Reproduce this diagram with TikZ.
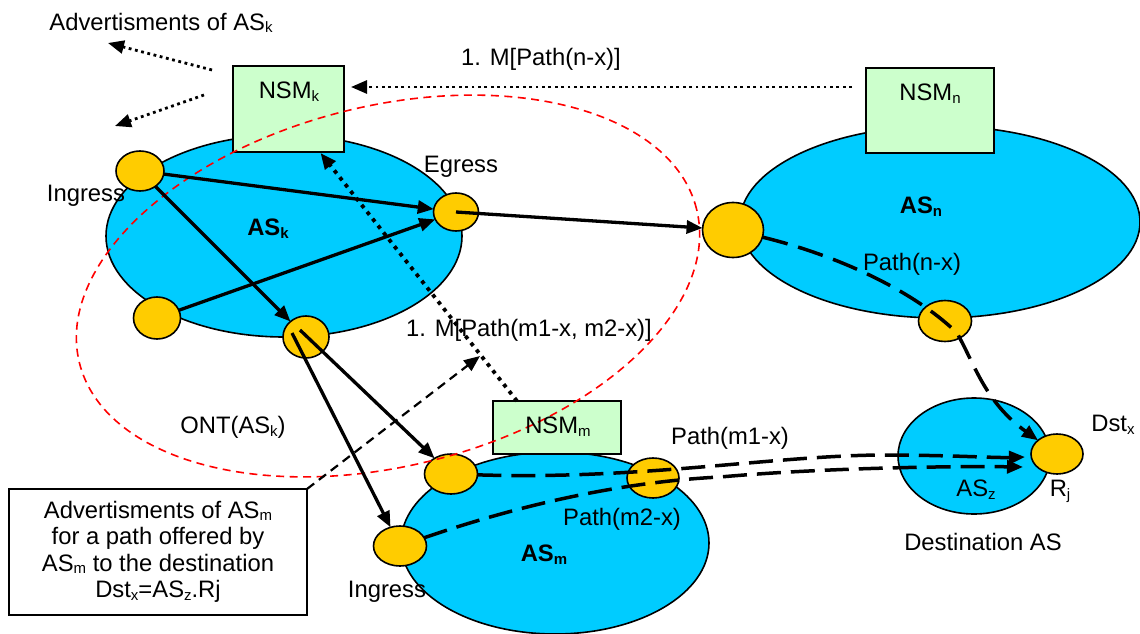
\documentclass[tikz,border=0pt]{standalone}
\usepackage{fontspec}
\setmainfont{Liberation Sans}
\usetikzlibrary{shapes.geometric,arrows.meta}
\definecolor{ascyan}{RGB}{0,204,255}
\definecolor{rtyellow}{RGB}{255,204,0}
\definecolor{nsmgreen}{RGB}{204,255,204}
\newcommand{\sbs}[1]{\raisebox{-2.5pt}{\fontsize{15}{15}\selectfont #1}}
\begin{document}
\begin{tikzpicture}[x=1pt,y=-1pt,
  every node/.style={font=\fontsize{23.8}{28}\selectfont, inner sep=0pt, outer sep=0pt},
  lbl/.style={anchor=base},
  asnet/.style={ellipse, draw=black, line width=1.6pt, fill=ascyan},
  router/.style={ellipse, draw=black, line width=1.6pt, fill=rtyellow},
  nsmbox/.style={rectangle, draw=black, line width=2.2pt, fill=nsmgreen},
  tip/.style={-{Triangle[length=16pt,width=13pt]}},
  solidarrow/.style={tip, line width=3.3pt},
  pathdash/.style={tip, line width=3.5pt, dash pattern=on 24pt off 10pt},
  finedots/.style={tip, line width=2.8pt, dash pattern=on 2.8pt off 3.6pt},
  thickdots/.style={tip, line width=3.8pt, dash pattern=on 3.8pt off 5pt},
  thindash/.style={tip, line width=2.2pt, dash pattern=on 9pt off 6pt},
]
\fill[white] (0,0) rectangle (1140,634);
\useasboundingbox (0,0) rectangle (1140,634);

% AS clouds
\node[asnet, minimum width=356pt, minimum height=202pt] (ask) at (284,236) {};
\node[asnet, minimum width=400pt, minimum height=192pt] (asn) at (940,222) {};
\node[asnet, minimum width=308pt, minimum height=182pt] (asm) at (555,543) {};
\node[asnet, minimum width=152pt, minimum height=116pt] (asz) at (974,456) {};

% NSM boxes
\node[nsmbox, minimum width=111pt, minimum height=86pt] (nsmk) at (288.5,109) {};
\node[nsmbox, minimum width=128pt, minimum height=85pt] (nsmn) at (930,110.5) {};
\node[nsmbox, minimum width=128pt, minimum height=53pt] (nsmm) at (557,427.5) {};

% routers
\node[router, minimum width=48pt, minimum height=40pt] (rkin) at (140,171) {};
\node[router, minimum width=47pt, minimum height=42pt] (rkbl) at (157,318) {};
\node[router, minimum width=45pt, minimum height=38pt] (rkeg) at (456,212) {};
\node[router, minimum width=46pt, minimum height=42pt] (rkbot) at (306,337) {};
\node[router, minimum width=61pt, minimum height=55pt] (rnin) at (733,230) {};
\node[router, minimum width=53pt, minimum height=41pt] (rnout) at (945,321) {};
\node[router, minimum width=52pt, minimum height=40pt] (rdst) at (1057,454) {};
\node[router, minimum width=53pt, minimum height=40pt] (rmin1) at (451,474) {};
\node[router, minimum width=52pt, minimum height=40pt] (rmout) at (653,478) {};
\node[router, minimum width=53pt, minimum height=40pt] (rmin2) at (400,546) {};

% ONT(AS_k) red dashed
\node[ellipse, draw=red, line width=1.6pt, dash pattern=on 8pt off 5.5pt,
      minimum width=636pt, minimum height=360pt, rotate=14] (ont) at (388,286) {};

% advert box
\node[draw=black, line width=2.2pt, fill=white, minimum width=298pt, minimum height=126pt,
      align=center, font=\fontsize{23.8}{26.5}\selectfont] (advbox) at (158,552)
  {Advertisments of AS\sbs{m}\\for a path offered by\\AS\sbs{m} to the destination\\Dst\sbs{x}=AS\sbs{z}.Rj};

% free ends
\coordinate (da1s) at (212,70);
\coordinate (da1e) at (108,43);
\coordinate (da2s) at (204,95);
\coordinate (da2e) at (115,126);
\coordinate (dn) at (852,87);
\coordinate (dashend) at (480,356);

% solid arrows
\draw[solidarrow] (rkin) -- (rkeg);
\draw[solidarrow] (rkbl) -- (rkeg);
\draw[solidarrow] (rkin) -- (rkbot);
\draw[solidarrow] (rkeg.center) -- (rnin);
\draw[solidarrow] ([xshift=-6pt,yshift=7pt]rkbot.center) -- (rmin1);
\draw[solidarrow] ([xshift=-14pt,yshift=4pt]rkbot.center) -- (rmin2);

% dotted message arrows
\draw[finedots] (da1s) -- (da1e);
\draw[finedots] (da2s) -- (da2e);
\draw[finedots, shorten >=7pt] (dn) -- (nsmk.east |- dn);
\draw[thickdots] ([xshift=-40pt]nsmm.north) -- ([xshift=32pt,yshift=-1pt]nsmk.south);
\draw[thindash] (advbox.north east) -- (dashend);

% dashed paths
\draw[pathdash, dash pattern=on 26pt off 11pt] (rnin) .. controls (840,256) and (915,292) .. (957,333)
   .. controls (975,365) and (985,402) .. (rdst);
\draw[pathdash] (rmin1) .. controls (640,480) and (770,456) .. (880,455)
   .. controls (950,455) and (995,458) .. ([xshift=-6pt,yshift=-3pt]rdst.west);
\draw[pathdash] (rmin2) .. controls (520,505) and (620,482) .. (720,477)
   .. controls (820,468) and (950,466) .. ([xshift=-8pt,yshift=-13pt]rdst.west);

% texts
\node[lbl] (tadvk) at (161,30.5) {Advertisments of AS\sbs{k}};
\node[lbl] (tmn) at (541,65.5) {1. M[Path(n-x)]};
\node[lbl] (tnsmk) at (289,98.5) {NSM\sbs{k}};
\node[lbl] (tnsmn) at (930,100.5) {NSM\sbs{n}};
\node[lbl] (tnsmm) at (558,433.5) {NSM\sbs{m}};
\node[lbl] (tingk) at (86,201.5) {Ingress};
\node[lbl] (tegk) at (461,172.5) {Egress};
\node[lbl] (task) at (268,235.5) {\textbf{AS}\sbs{\textbf{k}}};
\node[lbl] (tasn) at (921,213.5) {\textbf{AS}\sbs{\textbf{n}}};
\node[lbl] (tasm) at (544,561.5) {\textbf{AS}\sbs{\textbf{m}}};
\node[lbl] (tpnx) at (912,270.5) {Path(n-x)};
\node[lbl] (tmm) at (529,336.5) {1. M[Path(m1-x, m2-x)]};
\node[lbl] (tont) at (233,433.5) {ONT(AS\sbs{k})};
\node[lbl] (tpm1) at (730,444.5) {Path(m1-x)};
\node[lbl] (tpm2) at (622,525.5) {Path(m2-x)};
\node[lbl] (tingm) at (387,597.5) {Ingress};
\node[lbl] (tdst) at (1113,431.5) {Dst\sbs{x}};
\node[lbl] (trj) at (1060,496.5) {R\sbs{j}};
\node[lbl] (tasz) at (976,496.5) {AS\sbs{z}};
\node[lbl] (tdest) at (983,550.5) {Destination AS};
\end{tikzpicture}
\end{document}
